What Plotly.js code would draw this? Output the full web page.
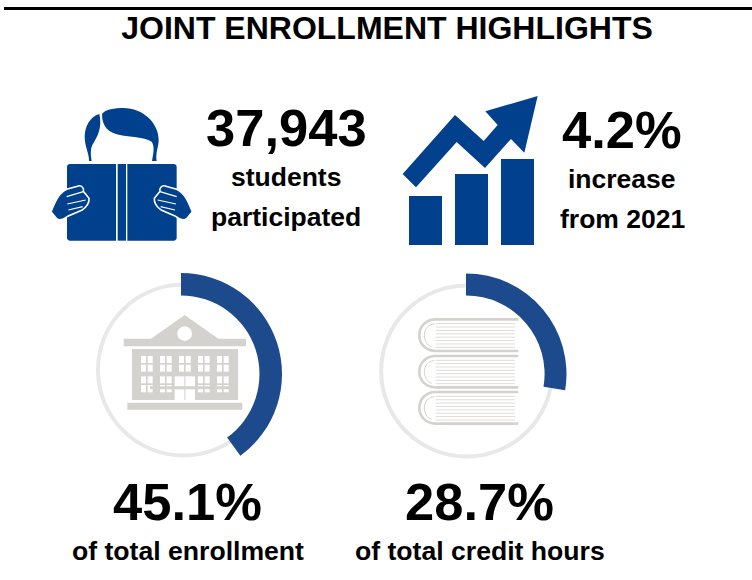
<!DOCTYPE html>
<html>
<head>
<meta charset="utf-8">
<script src="https://cdn.plot.ly/plotly-3.0.1.min.js"></script>
<style>html,body{margin:0;padding:0;background:#fff}#chart{width:752px;height:580px}</style>
</head>
<body>
<div id="chart"></div>
<script>
// ---- values and text ----
const chartTitle = "JOINT ENROLLMENT HIGHLIGHTS";
const studentsLabel = "37,943";
const increaseLabel = "4.2%";
const enrollmentLabel = "45.1%";
const creditHoursLabel = "28.7%";
const enrollmentCaption = "of total enrollment";
const creditHoursCaption = "of total credit hours";
const studentsCaption = ["students", "participated"];
const increaseCaption = ["increase", "from 2021"];
// Arc shares as actually drawn in the picture (in % of the circle). The printed
// 45.1% has a visibly shorter arc (about 40%) in the source graphic.
const enrollmentArc = [40, 60];
const creditHoursArc = [27.6, 72.4];
const ringFull = [100];
// Heights of the rising-bars pictogram, read in pixels.
const iconBars = [49, 71, 86];
const iconBarSlots = [0, 1, 2];

// ---- colours ----
const NAVY = "#00408c", ARC = "#1c4a8c", RING = "#e8e8e8", STONE = "#d3d2ce", PAGE = "#dedddb", W = 752, H = 580;

// Converts a path written in 3x-crop coordinates to chart pixels.
function zp(str, ox, oy, mirror) {
  return str.replace(/(-?[\d.]+),(-?[\d.]+)/g, (m, a, b) => {
    let x = +a; if (mirror !== undefined) x = mirror - x;
    return (ox + x / 3).toFixed(2) + "," + (oy + (+b) / 3).toFixed(2);
  });
}
const shapes = [];
const fillPath = (path, color, lineColor, lw) => shapes.push({
  type: "path", xref: "x", yref: "y", path, fillcolor: color, layer: "above",
  line: {color: lineColor || color, width: lw === undefined ? 0 : lw}
});
const strokePath = (path, color, lw) => shapes.push({
  type: "path", xref: "x", yref: "y", path, fillcolor: "rgba(0,0,0,0)", layer: "above",
  line: {color, width: lw}
});
const rect = (x0, y0, x1, y1, color) => shapes.push({
  type: "rect", xref: "x", yref: "y", x0, y0, x1, y1, fillcolor: color, layer: "above", line: {width: 0}
});
// Top rule
rect(4, 7, 752, 10, "#000000");

// ---- reader pictogram (crop origin 40,90) ----
const RX = 40, RY = 90;
fillPath(zp("M155,213 L147,213 C148,190 134,170 134,140 C134,110 150,80 178,72 C184,100 182,125 160,160 C150,175 152,195 155,213 Z", RX, RY), NAVY);
fillPath(zp("M186,72 C195,58 225,54 250,54 C310,54 356,100 356,150 C356,170 346,190 350,213 L336,213 C340,190 345,170 335,155 C310,140 270,142 240,135 C205,128 186,110 186,72 Z", RX, RY), NAVY);
fillPath(zp("M90,222 L228,222 L228,452 L90,452 C85,452 81,448 81,443 L81,231 C81,226 85,222 90,222 Z", RX, RY), NAVY);
fillPath(zp("M233,222 L258,222 L258,452 L233,452 Z", RX, RY), NAVY);
fillPath(zp("M262,222 L401,222 C406,222 410,226 410,231 L410,443 C410,448 406,452 401,452 L262,452 Z", RX, RY), NAVY);
[undefined, 490].forEach(m => {
  fillPath(zp("M33,365 C45,335 55,310 80,298 L115,288 C125,285 133,295 130,304 L147,325 C149,345 132,356 125,361 L85,378 C75,385 60,396 50,386 Z", RX, RY, m), NAVY, "#ffffff", 1.6);
  strokePath(zp("M80,320 L130,305", RX, RY, m), "#ffffff", 1.2);
  strokePath(zp("M82,342 L137,330", RX, RY, m), "#ffffff", 1.2);
  strokePath(zp("M85,360 L128,350", RX, RY, m), "#ffffff", 1.2);
});

// ---- rising arrow (crop origin 395,90) ----
fillPath(zp("M23,252 L180,75 L266,153 L308,105 L271,64 L428,18 L388,188 L348,147 L270,234 L185,156 L63,292 Z", 395, 90), NAVY);

// ---- building (crop origin 90,270) ----
const BX = 90, BY = 270;
const bR = (a, b, c, d, col) => rect(BX + a / 3, BY + b / 3, BX + c / 3, BY + d / 3, col);
fillPath(zp("M182,207 L284,135 L386,207 Z", BX, BY), STONE);
bR(101, 206, 468, 229, STONE);
bR(126, 237, 444, 390, STONE);
bR(112, 398, 457, 419, STONE);
shapes.push({type: "circle", xref: "x", yref: "y", x0: BX + 262 / 3, y0: BY + 169 / 3, x1: BX + 306 / 3, y1: BY + 213 / 3, fillcolor: "#ffffff", layer: "above", line: {width: 0}});
[153, 210, 267, 324, 381].forEach((cx, ci) => {
  [[258, 279, 284, 305], [319, 340, 345, 367]].forEach((rw, ri) => {
    if (ci === 2 && ri === 1) return;
    bR(cx, rw[0], cx + 15, rw[1], "#ffffff");
    bR(cx + 20, rw[0], cx + 35, rw[1], "#ffffff");
    bR(cx, rw[2], cx + 15, rw[3], "#ffffff");
    bR(cx + 20, rw[2], cx + 35, rw[3], "#ffffff");
  });
});
bR(254, 319, 315, 390, "#ffffff");
bR(283, 319, 286, 390, STONE);

// ---- stacked books (crop origin 375,270) ----
const SX = 375, SY = 270;
[[148, 243], [258, 352], [366, 461]].forEach(([t, b]) => {
  const m = (t + b) / 2;
  strokePath(zp(`M430,${t} L182,${t} C152,${t} 133,${t + 22} 133,${m} C133,${b - 22} 152,${b} 182,${b} L430,${b}`, SX, SY), STONE, 2.6);
  strokePath(zp(`M178,${t + 14} C160,${t + 14} 148,${t + 30} 148,${m} C148,${b - 32} 156,${b - 18} 170,${b - 12}`, SX, SY), STONE, 1);
  for (let i = 0; i < 8; i++) {
    const y = t + 13 + i * (b - t - 24) / 7;
    strokePath(zp(`M182,${y} L420,${y}`, SX, SY), PAGE, 1);
  }
});
// thick lower boards between the books
bR(180, 240, 430, 249, STONE);
bR(180, 349, 430, 358, STONE);

// ---- pies ----
const dom = (cx, cy, r) => ({x: [(cx - r) / W, (cx + r) / W], y: [1 - (cy + r) / H, 1 - (cy - r) / H]});
const baseRing = (cx, cy) => ({type: "pie", values: ringFull, domain: dom(cx, cy, 87.5), hole: 0.955, sort: false,
  marker: {colors: [RING], line: {width: 0}}, textinfo: "none", hoverinfo: "skip", showlegend: false});
const arc = (cx, cy, r, hole, vals) => ({type: "pie", values: vals, domain: dom(cx, cy, r), hole, sort: false, direction: "clockwise", rotation: 0,
  marker: {colors: [ARC, "rgba(0,0,0,0)"], line: {width: 0}}, textinfo: "none", hoverinfo: "skip", showlegend: false});

const traces = [
  {type: "scatter", x: [0], y: [0], mode: "markers", marker: {opacity: 0}, hoverinfo: "skip", showlegend: false},
  baseRing(183.5, 370), baseRing(466.7, 371),
  arc(181, 374, 101, 0.777, enrollmentArc), arc(466, 374, 100.5, 0.782, creditHoursArc),
  {type: "bar", x: iconBarSlots, y: iconBars, xaxis: "x2", yaxis: "y2", width: 33 / 46,
   marker: {color: NAVY, line: {width: 0}}, hoverinfo: "skip", showlegend: false}
];

// ---- texts ----
const note = (text, x, y, size) => ({text, x, y, xref: "x", yref: "y", xanchor: "center", yanchor: "middle", showarrow: false,
  font: {family: "Liberation Sans, Arial, sans-serif", size, color: "#000000", weight: 700}});
const annotations = [
  note(studentsLabel, 286.5, 127, 52.5),
  note(studentsCaption[0], 286, 177, 26.5),
  note(studentsCaption[1], 286, 217, 26.5),
  note(increaseLabel, 622, 129, 52.5),
  note(increaseCaption[0], 622, 179, 26.5),
  note(increaseCaption[1], 622, 219, 26.5),
  note(enrollmentLabel, 187, 501, 52.5),
  note(enrollmentCaption, 187.5, 551, 26.6),
  note(creditHoursLabel, 479, 501, 52.5),
  note(creditHoursCaption, 479.5, 551, 26.6)
];

const layout = {
  width: W, height: H, margin: {l: 0, r: 0, t: 0, b: 0}, paper_bgcolor: "#ffffff", plot_bgcolor: "rgba(0,0,0,0)",
  showlegend: false, hovermode: false,
  title: {text: chartTitle, x: 387 / W, xref: "paper", xanchor: "center", y: 1 - 28 / H, yref: "paper", yanchor: "middle",
    font: {family: "Liberation Sans, Arial, sans-serif", size: 32, color: "#000000", weight: 700}},
  xaxis: {range: [0, W], visible: false, fixedrange: true},
  yaxis: {range: [H, 0], visible: false, fixedrange: true},
  xaxis2: {domain: [402.5 / W, 540.5 / W], range: [-0.5, 2.5], visible: false, anchor: "y2", fixedrange: true},
  yaxis2: {domain: [1 - 245 / H, 1 - 159 / H], range: [0, 86], visible: false, anchor: "x2", fixedrange: true},
  shapes, annotations
};
Plotly.newPlot("chart", traces, layout, {displayModeBar: false, staticPlot: true});
</script>
</body>
</html>
